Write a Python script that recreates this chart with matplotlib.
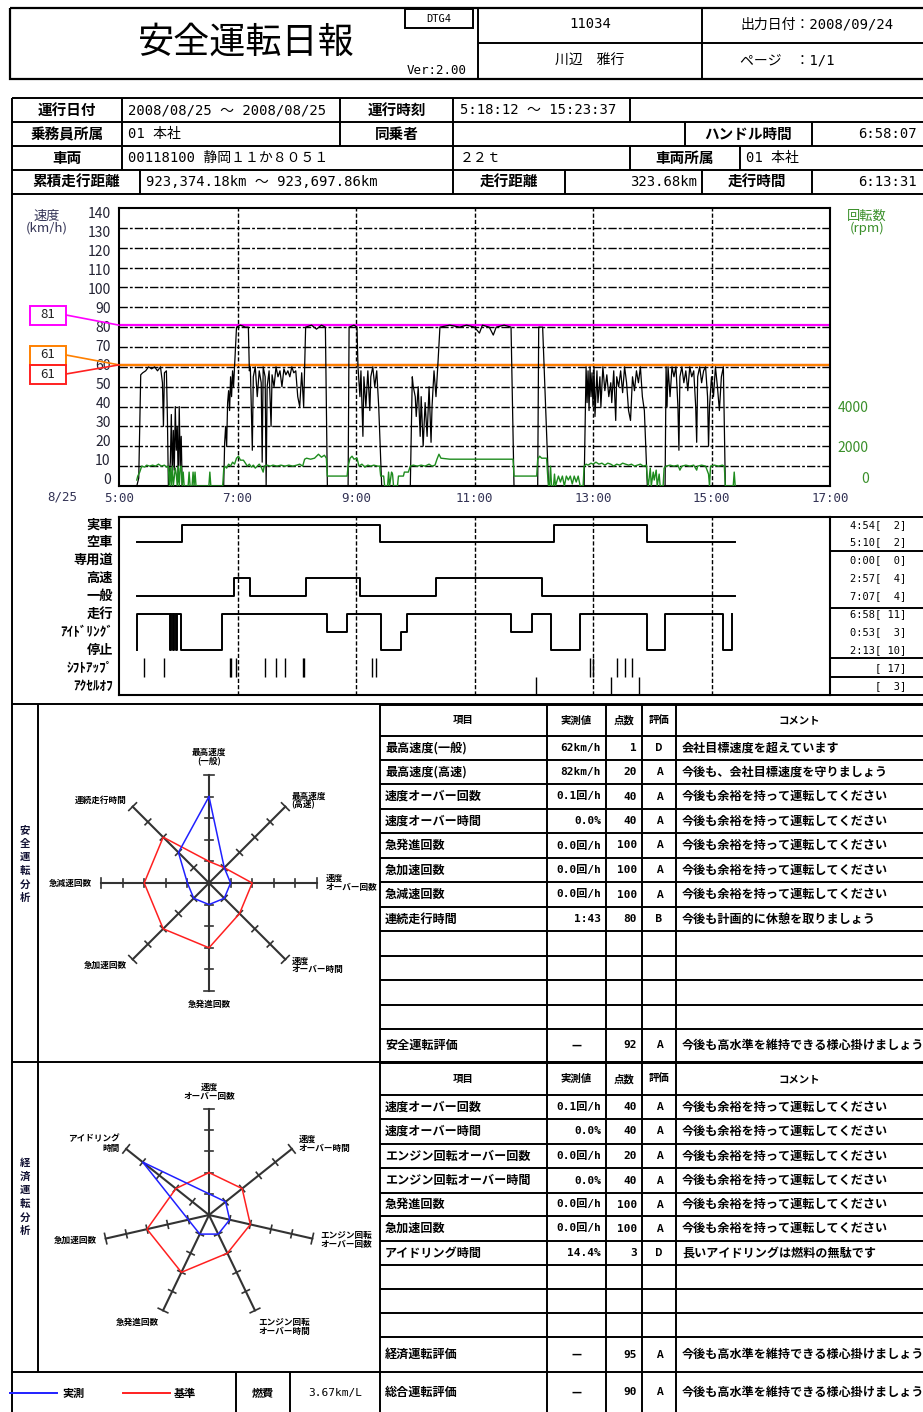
import numpy as np
import matplotlib.pyplot as plt
from matplotlib.patches import Rectangle, ConnectionPatch
from matplotlib.transforms import ScaledTranslation

plt.rcParams['font.family'] = ['Noto Sans CJK JP', 'DejaVu Sans']
MONO = ['DejaVu Sans Mono', 'Noto Sans CJK JP']

W, H = 923, 1412

# ---------------- header / info ----------------
title = '安全運転日報'
driver_no = '11034'
driver_name = '川辺　雅行'
out_date = '出力日付：2008/09/24'
page = 'ページ　：1/1'

# ---------------- speed / rpm trace (time, value) ----------------
speed_points = [
    ('5:18', 0), ('5:20', 4), ('5:22', 56), ('5:24', 57), ('5:27', 58), ('5:30', 60), ('5:33', 59),
    ('5:36', 60), ('5:39', 58), ('5:42', 60), ('5:44', 52), ('5:45', 30), ('5:46', 57), ('5:48', 58),
    ('5:49', 35), ('5:50', 0), ('5:52', 12), ('5:53', 36), ('5:54', 4), ('5:55', 28), ('5:56', 8),
    ('5:57', 40), ('5:58', 18), ('5:59', 30), ('6:00', 2), ('6:01', 40), ('6:02', 10), ('6:03', 25),
    ('6:04', 0),
    ('6:46', 0), ('6:47', 22), ('6:48', 30), ('6:49', 20), ('6:50', 42), ('6:51', 48), ('6:52', 38),
    ('6:53', 55), ('6:54', 45), ('6:55', 58), ('6:56', 50), ('6:57', 60), ('6:59', 80), ('7:03', 81),
    ('7:08', 80), ('7:11', 80), ('7:12', 58), ('7:13', 60), ('7:15', 18), ('7:16', 55), ('7:18', 60),
    ('7:20', 45), ('7:22', 58), ('7:24', 52), ('7:25', 12), ('7:26', 60), ('7:28', 55), ('7:29', 0),
    ('7:30', 50), ('7:32', 58), ('7:34', 30), ('7:35', 56), ('7:37', 50), ('7:39', 60), ('7:41', 55),
    ('7:43', 58), ('7:45', 50), ('7:47', 59), ('7:49', 56), ('7:51', 58), ('7:53', 55), ('7:55', 60),
    ('7:57', 57), ('7:59', 58), ('8:01', 45), ('8:03', 40), ('8:05', 57), ('8:07', 40), ('8:09', 80),
    ('8:15', 81), ('8:20', 79), ('8:25', 81), ('8:29', 80), ('8:31', 0),
    ('8:52', 0), ('8:53', 80), ('8:58', 81), ('9:01', 80), ('9:02', 60), ('9:04', 45), ('9:05', 58),
    ('9:07', 25), ('9:08', 55), ('9:10', 40), ('9:12', 58), ('9:14', 38), ('9:15', 55), ('9:17', 60),
    ('9:19', 50), ('9:21', 58), ('9:23', 40), ('9:26', 0),
    ('9:55', 0), ('9:57', 55), ('9:58', 50), ('10:00', 45), ('10:01', 35), ('10:03', 50), ('10:05', 25),
    ('10:06', 45), ('10:08', 20), ('10:10', 42), ('10:12', 25), ('10:14', 50), ('10:16', 22),
    ('10:17', 40), ('10:19', 58), ('10:21', 45), ('10:23', 62), ('10:25', 80), ('10:35', 81),
    ('10:45', 80), ('10:52', 81), ('11:00', 80), ('11:05', 77), ('11:08', 81), ('11:15', 80),
    ('11:19', 76), ('11:22', 80), ('11:30', 81), ('11:37', 80), ('11:40', 0),
    ('12:04', 0), ('12:05', 80), ('12:09', 80), ('12:15', 0),
    ('12:51', 0), ('12:53', 60), ('12:54', 42), ('12:55', 58), ('12:56', 38), ('12:57', 60),
    ('12:58', 45), ('12:59', 57), ('13:00', 40), ('13:01', 60), ('13:02', 35), ('13:04', 58),
    ('13:05', 42), ('13:07', 55), ('13:08', 40), ('13:10', 60), ('13:12', 48), ('13:14', 56),
    ('13:16', 45), ('13:18', 52), ('13:19', 42), ('13:21', 58), ('13:23', 33), ('13:24', 55),
    ('13:26', 50), ('13:28', 58), ('13:30', 47), ('13:32', 60), ('13:34', 52), ('13:36', 38),
    ('13:38', 33), ('13:40', 55), ('13:42', 48), ('13:44', 58), ('13:46', 52), ('13:48', 60),
    ('13:50', 45), ('13:52', 38), ('13:55', 0),
    ('14:13', 0), ('14:14', 60), ('14:15', 40), ('14:16', 60), ('14:18', 45), ('14:20', 60),
    ('14:22', 55), ('14:24', 60), ('14:26', 40), ('14:27', 18), ('14:28', 55), ('14:30', 60),
    ('14:32', 52), ('14:34', 58), ('14:36', 48), ('14:38', 60), ('14:40', 55), ('14:42', 58),
    ('14:44', 40), ('14:45', 22), ('14:46', 55), ('14:48', 60), ('14:50', 52), ('14:52', 58),
    ('14:54', 60), ('14:56', 45), ('14:57', 20), ('14:58', 40), ('15:00', 55), ('15:02', 45),
    ('15:04', 60), ('15:06', 50), ('15:08', 38), ('15:10', 55), ('15:12', 60), ('15:14', 0),
    ('15:23', 0),
]

rpm_points = [
    ('5:18', 300), ('5:19', 500), ('5:21', 700), ('5:23', 1000), ('5:26', 950), ('5:28', 1050),
    ('5:31', 1000), ('5:34', 1050), ('5:37', 1000), ('5:40', 1100), ('5:43', 1000), ('5:46', 1050),
    ('5:48', 950), ('5:50', 1000), ('5:51', 0), ('5:52', 900), ('5:53', 0), ('5:54', 1000),
    ('5:55', 0), ('5:57', 900), ('5:58', 600), ('5:59', 0), ('6:00', 1000), ('6:01', 0),
    ('6:02', 900), ('6:03', 1000), ('6:04', 0), ('6:05', 700), ('6:06', 0), ('6:10', 0),
    ('6:11', 700), ('6:12', 0), ('6:14', 0), ('6:15', 700), ('6:16', 0), ('6:17', 700), ('6:18', 0),
    ('6:31', 0), ('6:32', 700), ('6:33', 0), ('6:45', 0), ('6:46', 800), ('6:47', 1000),
    ('6:49', 900), ('6:51', 1100), ('6:53', 1000), ('6:55', 1200), ('6:57', 1100), ('6:59', 1400),
    ('7:01', 1500), ('7:03', 1300), ('7:06', 1300), ('7:08', 1150), ('7:10', 1000), ('7:12', 1100),
    ('7:14', 950), ('7:16', 1050), ('7:18', 900), ('7:20', 1000), ('7:22', 1100), ('7:24', 950),
    ('7:26', 700), ('7:27', 1000), ('7:30', 1050), ('7:33', 1000), ('7:36', 1050), ('7:40', 1000),
    ('7:44', 1050), ('7:48', 1000), ('7:52', 1050), ('7:56', 1000), ('8:00', 1050), ('8:03', 1100),
    ('8:06', 1000), ('8:08', 1350), ('8:10', 1400), ('8:14', 1350), ('8:18', 1400), ('8:22', 1600),
    ('8:25', 1450), ('8:28', 1550), ('8:30', 1400), ('8:31', 500), ('8:51', 500), ('8:52', 1000),
    ('8:54', 1400), ('8:56', 1500), ('8:58', 1350), ('9:01', 1400), ('9:03', 1000), ('9:06', 1100),
    ('9:09', 950), ('9:12', 1050), ('9:15', 1000), ('9:18', 1050), ('9:22', 1000), ('9:24', 1000),
    ('9:25', 500), ('9:28', 500), ('9:29', 0), ('9:32', 0), ('9:33', 700), ('9:34', 0),
    ('9:36', 700), ('9:37', 600), ('9:38', 0), ('9:42', 0), ('9:43', 500), ('9:48', 500),
    ('9:49', 700), ('9:53', 700), ('9:55', 1000), ('9:58', 1050), ('10:02', 1000), ('10:06', 1050),
    ('10:10', 1000), ('10:14', 1100), ('10:17', 1000), ('10:20', 1050), ('10:22', 1350),
    ('10:24', 1600), ('10:26', 1400), ('10:35', 1350), ('10:50', 1350), ('11:05', 1350),
    ('11:20', 1350), ('11:39', 1350), ('11:40', 500), ('12:03', 500), ('12:04', 1350),
    ('12:06', 1500), ('12:08', 1400), ('12:13', 1400), ('12:14', 600), ('12:15', 0), ('12:16', 0),
    ('12:17', 1000), ('12:18', 0), ('12:20', 0), ('12:21', 600), ('12:22', 0), ('12:25', 500),
    ('12:27', 200), ('12:29', 500), ('12:31', 0), ('12:33', 500), ('12:35', 300), ('12:37', 500),
    ('12:39', 100), ('12:41', 500), ('12:43', 200), ('12:45', 500), ('12:47', 0), ('12:50', 0),
    ('12:51', 1000), ('12:53', 1100), ('12:55', 1050), ('12:58', 1150), ('13:00', 1100),
    ('13:03', 1200), ('13:06', 1100), ('13:09', 1150), ('13:12', 1050), ('13:15', 1150),
    ('13:18', 1100), ('13:21', 1000), ('13:24', 1100), ('13:27', 1050), ('13:30', 1150),
    ('13:33', 1100), ('13:36', 1050), ('13:39', 1100), ('13:42', 1000), ('13:45', 1050),
    ('13:48', 1100), ('13:51', 1000), ('13:54', 1050), ('13:55', 400), ('13:56', 0), ('13:58', 900),
    ('13:59', 0), ('14:01', 700), ('14:02', 300), ('14:04', 800), ('14:05', 0), ('14:07', 600),
    ('14:08', 0), ('14:11', 0), ('14:12', 900), ('14:14', 1000), ('14:18', 1050), ('14:22', 1000),
    ('14:26', 1050), ('14:28', 800), ('14:30', 1000), ('14:34', 1050), ('14:38', 1000),
    ('14:42', 1050), ('14:45', 800), ('14:46', 1000), ('14:50', 1050), ('14:54', 1000),
    ('14:57', 600), ('14:58', 0), ('14:59', 1000), ('15:03', 1050), ('15:07', 1000), ('15:11', 1050),
    ('15:13', 1000), ('15:14', 0), ('15:22', 0), ('15:23', 700), ('15:24', 0),
]

limit_general = 61
limit_general2 = 61
limit_highway = 81

# ---------------- operation status ----------------
load_t = ['5:18', '6:04', '9:24', '12:20', '13:55', '15:24']
load_s = ['空車', '実車', '空車', '実車', '空車', '空車']
road_t = ['5:18', '6:56', '7:13', '8:09', '9:04', '10:21', '12:08', '15:24']
road_s = ['一般', '高速', '一般', '高速', '一般', '高速', '一般', '一般']
drive_t = ['5:18', '5:18', '5:52', '5:53', '5:55', '5:56', '5:58', '5:59', '6:03', '6:44', '8:31',
           '8:51', '9:25', '9:46', '9:52', '11:37', '11:58', '12:17', '12:47', '13:55', '14:13',
           '15:12', '15:21', '15:21']
drive_s = ['停止', '走行', '停止', '走行', '停止', '走行', '停止', '走行', '停止', '走行', 'ｱｲﾄﾞﾘﾝｸﾞ',
           '走行', '停止', 'ｱｲﾄﾞﾘﾝｸﾞ', '走行', 'ｱｲﾄﾞﾘﾝｸﾞ', '走行', '停止', '走行', '停止', '走行',
           '停止', '走行', '走行']
shiftup_t = ['5:25', '5:46', '6:52', '6:53', '6:58', '7:28', '7:39', '7:48', '8:06', '8:07',
             '9:16', '9:20', '12:57', '13:00', '13:24', '13:32', '13:39']
acceloff_t = ['12:02', '13:18', '13:47']
status_labels = ['実車', '空車', '専用道', '高速', '一般', '走行', 'ｱｲﾄﾞﾘﾝｸﾞ', '停止', 'ｼﾌﾄｱｯﾌﾟ', 'ｱｸｾﾙｵﾌ']
status_totals = ['4:54[  2]', '5:10[  2]', '0:00[  0]', '2:57[  4]', '7:07[  4]',
                 '6:58[ 11]', '0:53[  3]', '2:13[ 10]', '[ 17]', '[  3]']

# ---------------- safety analysis ----------------
safety_axes = ['最高速度\n(一般)', '最高速度\n(高速)', '速度\nオーバー回数', '速度\nオーバー時間',
               '急発進回数', '急加速回数', '急減速回数', '連続走行時間']
safety_measured = [0.8, 0.2, 0.2, 0.2, 0.2, 0.2, 0.2, 0.4]
safety_standard = [0.2, 0.2, 0.4, 0.4, 0.6, 0.6, 0.6, 0.6]
safety_item = ['最高速度(一般)', '最高速度(高速)', '速度オーバー回数', '速度オーバー時間',
               '急発進回数', '急加速回数', '急減速回数', '連続走行時間', '', '', '', '', '安全運転評価']
safety_value = ['62km/h', '82km/h', '0.1回/h', '0.0%', '0.0回/h', '0.0回/h', '0.0回/h', '1:43',
                '', '', '', '', '—']
safety_score = ['1', '20', '40', '40', '100', '100', '100', '80', '', '', '', '', '92']
safety_grade = ['D', 'A', 'A', 'A', 'A', 'A', 'A', 'B', '', '', '', '', 'A']
keep = '今後も余裕を持って運転してください'
high = '今後も高水準を維持できる様心掛けましょう'
safety_comment = ['会社目標速度を超えています', '今後も、会社目標速度を守りましょう', keep, keep,
                  keep, keep, keep, '今後も計画的に休憩を取りましょう', '', '', '', '', high]

# ---------------- economy analysis ----------------
eco_axes = ['速度\nオーバー回数', '速度\nオーバー時間', 'エンジン回転\nオーバー回数',
            'エンジン回転\nオーバー時間', '急発進回数', '急加速回数', 'アイドリング\n時間']
eco_measured = [0.2, 0.2, 0.2, 0.2, 0.2, 0.2, 0.8]
eco_standard = [0.4, 0.4, 0.4, 0.4, 0.6, 0.6, 0.4]
eco_item = ['速度オーバー回数', '速度オーバー時間', 'エンジン回転オーバー回数', 'エンジン回転オーバー時間',
            '急発進回数', '急加速回数', 'アイドリング時間', '', '', '', '経済運転評価', '総合運転評価']
eco_value = ['0.1回/h', '0.0%', '0.0回/h', '0.0%', '0.0回/h', '0.0回/h', '14.4%', '', '', '', '—', '—']
eco_score = ['40', '40', '20', '40', '100', '100', '3', '', '', '', '95', '90']
eco_grade = ['A', 'A', 'A', 'A', 'A', 'A', 'D', '', '', '', 'A', 'A']
eco_comment = [keep, keep, keep, keep, keep, keep, '長いアイドリングは燃料の無駄です', '', '', '', high, high]
fuel = '3.67km/L'


def hrs(s):
    h, m = s.split(':')
    return int(h) + int(m) / 60


fig = plt.figure(figsize=(W / 100, H / 100), dpi=100)
bg = fig.add_axes([0, 0, 1, 1])
bg.set_xlim(0, W)
bg.set_ylim(H, 0)
bg.axis('off')

LW = 1.4


def hl(y, x0, x1, lw=LW):
    bg.plot([x0, x1], [y, y], color='k', lw=lw, solid_capstyle='butt')


def vl(x, y0, y1, lw=LW):
    bg.plot([x, x], [y0, y1], color='k', lw=lw, solid_capstyle='butt')


def tx(x, y, s, size=9, ha='center', weight='normal', color='k', **kw):
    bg.text(x, y, s, fontsize=size, ha=ha, va='center', fontweight=weight, color=color, **kw)


def box_axes(x0, y0, x1, y1):
    return fig.add_axes([x0 / W, 1 - y1 / H, (x1 - x0) / W, (y1 - y0) / H])


# ---------------- header ----------------
bg.add_patch(Rectangle((10, 8), 920, 71, fill=False, lw=1.6))
vl(478, 8, 79)
vl(702, 8, 79)
hl(43, 478, 923)
bg.add_patch(Rectangle((405, 9), 68, 19, fill=False, lw=1.4))
tx(439, 18.5, 'DTG4', size=7.5, family=MONO)
tx(246, 43, title, size=26)
tx(437, 70, 'Ver:2.00', size=9, family=MONO)
tx(590, 24, driver_no, size=10, family=MONO)
tx(590, 61, driver_name, size=10)
tx(817, 24, out_date, size=10, family=MONO)
tx(740, 61, page, size=10, ha='left', family=MONO)

# ---------------- info table ----------------
for y in [98, 122, 146, 170, 194]:
    hl(y, 12, 923)
vl(12, 98, 1412)
for x in [122, 340, 453, 630]:
    vl(x, 98, 122)
for x in [122, 340, 453, 685, 812]:
    vl(x, 122, 146)
for x in [122, 453, 630, 740]:
    vl(x, 146, 170)
for x in [140, 453, 565, 702, 812]:
    vl(x, 170, 194)
LAB = dict(weight='bold', size=10.5)
VAL = dict(size=10, family=MONO)
tx(67, 110, '運行日付', **LAB)
tx(128, 110, '2008/08/25 ～ 2008/08/25', ha='left', **VAL)
tx(397, 110, '運行時刻', **LAB)
tx(460, 110, '5:18:12 ～ 15:23:37', ha='left', **VAL)
tx(67, 134, '乗務員所属', **LAB)
tx(128, 134, '01 本社', ha='left', **VAL)
tx(397, 134, '同乗者', **LAB)
tx(748, 134, 'ハンドル時間', **LAB)
tx(917, 134, '6:58:07', ha='right', **VAL)
tx(67, 158, '車両', **LAB)
tx(128, 158, '00118100 静岡１１か８０５１', ha='left', **VAL)
tx(460, 158, '２２ｔ', ha='left', **VAL)
tx(685, 158, '車両所属', **LAB)
tx(746, 158, '01 本社', ha='left', **VAL)
tx(76, 182, '累積走行距離', **LAB)
tx(146, 182, '923,374.18km ～ 923,697.86km', ha='left', **VAL)
tx(509, 182, '走行距離', **LAB)
tx(697, 182, '323.68km', ha='right', **VAL)
tx(757, 182, '走行時間', **LAB)
tx(917, 182, '6:13:31', ha='right', **VAL)
hl(704, 12, 923)

# ---------------- speed chart ----------------
st_t = [hrs(t) for t, v in speed_points]
st_v = [v for t, v in speed_points]
rp_t = [hrs(t) for t, v in rpm_points]
rp_v = [v for t, v in rpm_points]

sp = box_axes(119, 208, 830, 486)
sp.set_xlim(5, 17)
sp.set_ylim(0, 140)
for y in range(10, 140, 10):
    sp.axhline(y, color='k', lw=1.0, ls=(0, (6, 1.5, 2, 1.5)), zorder=1)
for h in range(7, 17, 2):
    sp.axvline(h, color='k', lw=1.0, ls=(0, (3, 1.5)), zorder=1)
sp.axhline(limit_general2, color='#ff2020', lw=1.6, zorder=2)
sp.axhline(limit_general, color='#ff8000', lw=1.6, zorder=2)
sp.axhline(limit_highway, color='#ff00ff', lw=1.6, zorder=2)
sp.plot(st_t, st_v, color='k', lw=0.9, zorder=3)
sp.set_yticks(range(0, 141, 10))
sp.set_xticks(range(5, 18, 2))
sp.set_xticklabels([f'{h}:00' for h in range(5, 18, 2)], family=MONO)
sp.tick_params(length=0, labelsize=10, pad=6, labelcolor='#222233')
sp.tick_params(axis='x', labelsize=9, pad=4, labelcolor='#333355')
# the printed speed labels are packed a little tighter than the grid
for v, lab in zip(range(0, 141, 10), sp.get_yticklabels()):
    off = 5 - (140 - v) / 140 * 13
    lab.set_transform(lab.get_transform() + ScaledTranslation(0, -off / 100, fig.dpi_scale_trans))
for s in sp.spines.values():
    s.set_linewidth(1.5)

rp = sp.twinx()
rp.set_ylim(0, 14000)
rp.plot(rp_t, rp_v, color='#1e8c1e', lw=1.0)
rp.set_yticks([0, 2000, 4000])
rp.tick_params(length=0, labelsize=10, labelcolor='#3a8f2a', pad=28)
for lab in rp.get_yticklabels():
    lab.set_ha('right')
rp.get_yticklabels()[0].set_va('bottom')
for s in rp.spines.values():
    s.set_visible(False)

tx(47, 222, '速度\n(km/h)', size=9.5, color='#333355', linespacing=0.9)
tx(867, 222, '回転数\n(rpm)', size=9.5, color='#3a8f2a', linespacing=0.9)
tx(62, 497, '8/25', size=9, color='#333355', family=MONO)

for val, col, yc in [(limit_highway, '#ff00ff', 315), (limit_general, '#ff8000', 355),
                     (limit_general2, '#ff2020', 374)]:
    bg.add_patch(Rectangle((30, yc - 9.5), 36, 19, fill=False, ec=col, lw=1.4))
    tx(48, yc, str(val), size=9.5, color='#222222')
    con = ConnectionPatch(xyA=(66, yc), coordsA=bg.transData, xyB=(5, val), coordsB=sp.transData,
                          color=col, lw=1.2)
    fig.add_artist(con)

# ---------------- status chart ----------------
row_y = {'実車': 525, '空車': 542, '専用道': 560, '高速': 578, '一般': 596,
         '走行': 614, 'ｱｲﾄﾞﾘﾝｸﾞ': 632, '停止': 650, 'ｼﾌﾄｱｯﾌﾟ': 668, 'ｱｸｾﾙｵﾌ': 686}
st = box_axes(119, 517, 830, 695)
st.set_xlim(5, 17)
st.set_ylim(695, 517)
st.set_xticks([])
st.set_yticks([])
for s in st.spines.values():
    s.set_linewidth(1.5)
for h in range(7, 17, 2):
    st.axvline(h, color='k', lw=1.0, ls=(0, (3, 1.5)))
for ts, ss in [(load_t, load_s), (road_t, road_s), (drive_t, drive_s)]:
    st.step([hrs(t) for t in ts], [row_y[s] for s in ss], where='post', color='k', lw=1.4)
st.vlines([hrs(t) for t in shiftup_t], 658, 677, color='k', lw=1.0)
st.vlines([hrs(t) for t in acceloff_t], 677, 695, color='k', lw=1.0)

hl(517, 830, 923)
hl(695, 830, 923)
for y in [551, 608, 658, 677]:
    hl(y, 119, 923)
for lab, tot in zip(status_labels, status_totals):
    tx(113, row_y[lab], lab, size=9.5, ha='right', weight='bold')
    tx(906, row_y[lab], tot, size=7.5, ha='right', family=MONO)

# ---------------- analysis frames ----------------
vl(38, 704, 1372)
vl(380, 704, 1412)
hl(1062, 12, 923)
hl(1372, 12, 380)
vl(236, 1372, 1412)
vl(290, 1372, 1412)
tx(25, 864, '安\n全\n運\n転\n分\n析', size=7.5, weight='bold', color='#111133', linespacing=1.45)
tx(25, 1197, '経\n済\n運\n転\n分\n析', size=7.5, weight='bold', color='#111133', linespacing=1.45)


def radar(cx, cy, R, labels, meas, std):
    half = 168
    ax = box_axes(cx - half, cy - half, cx + half, cy + half)
    lim = half / R
    ax.set_xlim(-lim, lim)
    ax.set_ylim(-lim, lim)
    ax.axis('off')
    n = len(labels)
    ang = np.pi / 2 - 2 * np.pi * np.arange(n) / n
    for a, lab in zip(ang, labels):
        c, s = np.cos(a), np.sin(a)
        ax.plot([0, c], [0, s], color='#333333', lw=1.5)
        for r in [0.2, 0.4, 0.6, 0.8, 1.0]:
            d = 0.05 if r == 1.0 else 0.037
            ax.plot([r * c - d * s, r * c + d * s], [r * s + d * c, r * s - d * c],
                    color='#333333', lw=1.2)
        ha = 'left' if c > 0.3 else ('right' if c < -0.3 else 'center')
        va = 'bottom' if s > 0.9 else ('top' if s < -0.9 else 'center')
        ax.text(1.08 * c, 1.08 * s, lab, fontsize=6.2, fontweight='bold', ha=ha, va=va,
                linespacing=1.0)
    for vals, col in [(std, '#ff2020'), (meas, '#2020ff')]:
        v = np.array(vals)
        x = np.append(v * np.cos(ang), v[0] * np.cos(ang[0]))
        y = np.append(v * np.sin(ang), v[0] * np.sin(ang[0]))
        ax.plot(x, y, color=col, lw=1.1)


radar(209, 883, 108, safety_axes, safety_measured, safety_standard)
radar(209, 1215, 106, eco_axes, eco_measured, eco_standard)

# legend row
bg.plot([10, 57], [1393, 1393], color='#2020ff', lw=1.4)
tx(62, 1393, '実測', size=8, ha='left', weight='bold')
bg.plot([123, 170], [1393, 1393], color='#ff2020', lw=1.4)
tx(174, 1393, '基準', size=8, ha='left', weight='bold')
tx(263, 1393, '燃費', size=8, weight='bold')
tx(335, 1393, fuel, size=8, family=MONO)

# ---------------- tables ----------------
cols = [380, 547, 606, 642, 676, 923]
header = ['項目', '実測値', '点数', '評価', 'コメント']


def table(rows, items, values, scores, grades, comments, bottom_line=True):
    for i, y in enumerate(rows):
        if i == len(rows) - 1 and not bottom_line:
            continue
        hl(y, 380, 923)
    for x in cols[1:-1]:
        vl(x, rows[0], rows[-1])
    yc = (rows[0] + rows[1]) / 2
    for j, h in enumerate(header):
        tx((cols[j] + cols[j + 1]) / 2, yc, h, size=7.5, weight='bold')
    for i in range(len(items)):
        yc = (rows[i + 1] + rows[i + 2]) / 2
        tx(385, yc, items[i], size=8.7, ha='left', weight='bold')
        if values[i] == '—':
            tx(577, yc, values[i], size=8, weight='bold')
        else:
            tx(601, yc, values[i], size=8, ha='right', weight='bold', family=MONO)
        tx(637, yc, scores[i], size=8, ha='right', weight='bold', family=MONO)
        tx(659, yc, grades[i], size=7.5, weight='bold')
        tx(682, yc, comments[i], size=8.7, ha='left', weight='bold')


table([705, 736, 760, 784, 809, 833, 858, 882, 907, 931, 956, 980, 1005, 1029, 1062],
      safety_item, safety_value, safety_score, safety_grade, safety_comment)
table([1063, 1095, 1119, 1144, 1168, 1193, 1216, 1241, 1265, 1289, 1313, 1337, 1372, 1412],
      eco_item, eco_value, eco_score, eco_grade, eco_comment, bottom_line=False)

fig.savefig('out.png', dpi=100)
